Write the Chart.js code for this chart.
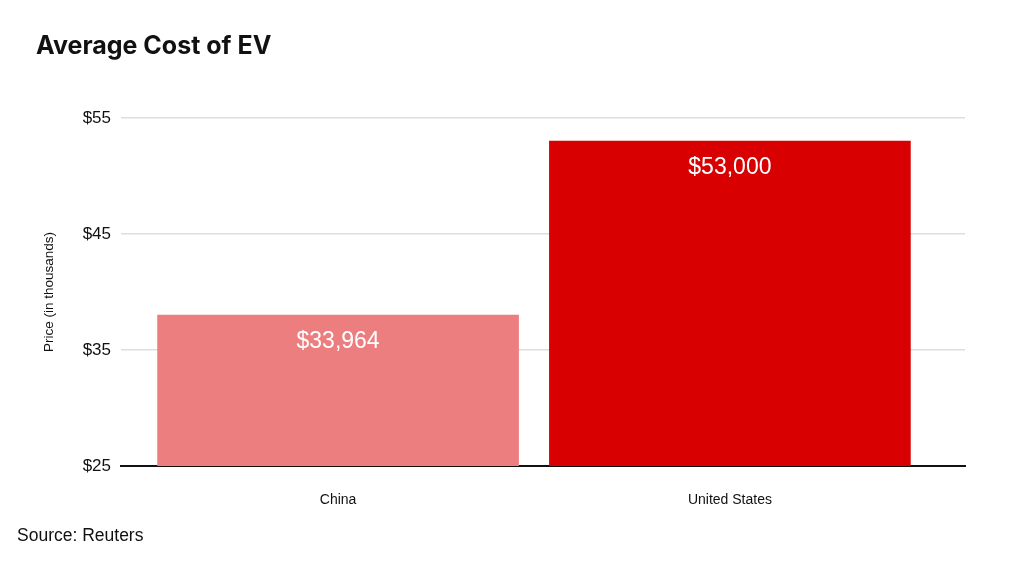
<!DOCTYPE html>
<html>
<head>
<meta charset="utf-8">
<script src="https://cdn.jsdelivr.net/npm/chart.js@4.4.0/dist/chart.umd.min.js"></script>
<style>
  html, body { margin: 0; padding: 0; background: #fff; }
  #wrap { position: relative; width: 1024px; height: 565px; }
  #title { position: absolute; left: 36px; top: 30px; font-family: Inter, "Liberation Sans", sans-serif;
           font-weight: 700; font-size: 25px; color: #111; }
  #source { position: absolute; left: 17px; top: 525px; font-family: "Liberation Sans", Arial, sans-serif;
            font-size: 17.5px; color: #111; }
</style>
</head>
<body>
<div id="wrap">
  <canvas id="chart0" width="1024" height="565"></canvas>
  <div id="title">Average Cost of EV</div>
  <div id="source">Source: Reuters</div>
</div>
<script>
// data (thousands of dollars)
var categories = ['China', 'United States'];
var prices = [38.0, 53.0];
var priceLabels = ['$33,964', '$53,000'];
var barColors = ['#ED7E7F', '#D80000'];
var yTicks = [25, 35, 45, 55];
var barPositions = [0, 1];

var ctx = document.getElementById('chart0').getContext('2d');

// white value labels just inside the top of each bar
var valueLabels = {
  id: 'valueLabels',
  afterDatasetsDraw: function(chart) {
    var meta = chart.getDatasetMeta(0);
    var c = chart.ctx;
    c.save();
    c.fillStyle = '#fff';
    c.font = '23px "Liberation Sans", Arial, sans-serif';
    c.textAlign = 'center';
    c.textBaseline = 'middle';
    meta.data.forEach(function(bar, i) {
      c.fillText(priceLabels[i], bar.x, bar.y + 26);
    });
    c.restore();
  }
};

var chart = new Chart(ctx, {
  type: 'bar',
  data: {
    datasets: [{
      data: barPositions.map(function(x, i) { return { x: x, y: prices[i] }; }),
      backgroundColor: barColors,
      borderWidth: 0,
      barThickness: 361
    }]
  },
  options: {
    responsive: false,
    animation: false,
    devicePixelRatio: 1,
    layout: { padding: { left: 0, top: 118, right: 59, bottom: 0 } },
    plugins: { legend: { display: false }, tooltip: { enabled: false } },
    scales: {
      x: {
        type: 'linear',
        offset: false,
        min: -0.554,
        max: 1.6,
        afterFit: function(scale) { scale.height = 99; },
        afterBuildTicks: function(scale) {
          scale.ticks = barPositions.map(function(v) { return { value: v }; });
        },
        grid: { display: false, drawTicks: false, offset: false },
        border: { display: true, color: '#111', width: 2 },
        ticks: {
          padding: 26,
          color: '#111',
          font: { family: '"Liberation Sans", Arial, sans-serif', size: 14 },
          callback: function(v) { return categories[barPositions.indexOf(v)]; }
        }
      },
      y: {
        min: 25,
        max: 55,
        afterFit: function(scale) { scale.width = 121; },
        afterBuildTicks: function(scale) {
          scale.ticks = yTicks.map(function(v) { return { value: v }; });
        },
        grid: { color: '#dedede', lineWidth: 1.5, drawTicks: false },
        border: { display: false },
        ticks: {
          padding: 10,
          color: '#111',
          font: { family: '"Liberation Sans", Arial, sans-serif', size: 17 },
          callback: function(v) { return '$' + v; }
        },
        title: {
          display: true,
          text: 'Price (in thousands)',
          color: '#111',
          padding: { top: 41, bottom: 0 },
          font: { family: '"Liberation Sans", Arial, sans-serif', size: 13.5 }
        }
      }
    }
  },
  plugins: [valueLabels]
});
</script>
</body>
</html>
